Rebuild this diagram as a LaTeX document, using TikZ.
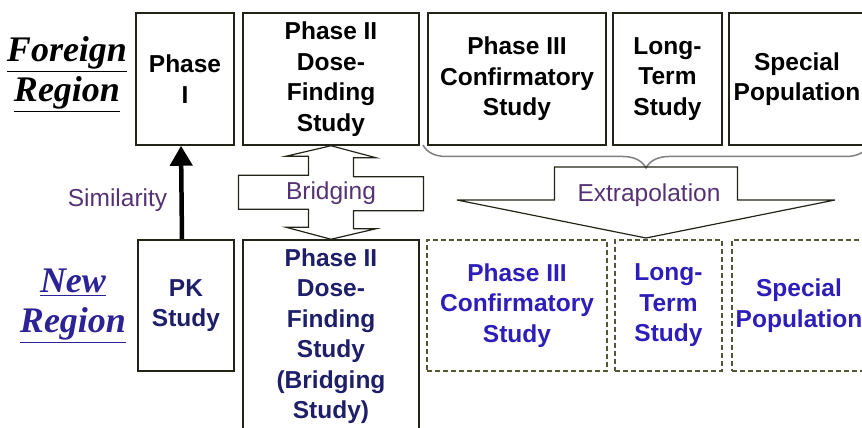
\documentclass[tikz,border=0pt]{standalone}
\usepackage{fontspec}
\setmainfont{Liberation Serif}
\setsansfont{Liberation Sans}
\usetikzlibrary{arrows.meta,decorations.pathreplacing}

\definecolor{boxline}{RGB}{35,35,25}
\definecolor{dashline}{RGB}{85,85,55}
\definecolor{newblue}{RGB}{45,30,185}
\definecolor{navyblue}{RGB}{30,30,105}
\definecolor{regionblue}{RGB}{45,35,150}
\definecolor{tagpurple}{RGB}{85,50,115}

\newcommand{\studyfont}{\fontsize{24.5}{30.5}\selectfont\sffamily\bfseries}
\newcommand{\regionfont}{\fontsize{36}{40}\selectfont\rmfamily\bfseries\itshape}
\newcommand{\tagfont}{\fontsize{24.5}{30}\selectfont\sffamily}

\tikzstyle{study} = [draw=boxline, line width=1.5pt, align=center, inner sep=0pt, minimum height=132pt, font=\studyfont]
\tikzstyle{newstudy} = [study, draw=dashline, dash pattern=on 5pt off 3pt, minimum height=131pt, text=newblue]
\tikzstyle{region} = [align=center, font=\regionfont]
\tikzstyle{tag} = [font=\tagfont, text=tagpurple]
\tikzstyle{block} = [draw=boxline, line width=1.2pt, line join=miter]
\tikzstyle{bracket} = [draw=gray, line width=1.5pt, decorate, decoration={brace, amplitude=23pt}]

\begin{document}
\begin{tikzpicture}[x=1pt, y=1pt]
\useasboundingbox (0,0) rectangle (862,428);
\clip (0,0) rectangle (862,428);

\node[region] (foreign) at (67,354) {\underline{Foreign}\\\underline{Region}};
\node[region, text=regionblue] (newreg) at (73,122) {\underline{New}\\\underline{Region}};

\node[study, minimum width=98pt] (phase1) at (185,349) {Phase\\I};
\node[study, minimum width=176pt] (phase2) at (331,349) {Phase II\\Dose-\\Finding\\Study};
\node[study, minimum width=178pt] (phase3) at (517,349) {Phase III\\Confirmatory\\Study};
\node[study, minimum width=109pt] (longterm) at (667.5,349) {Long-\\Term\\Study};
\node[study, minimum width=136pt] (special) at (797,349) {Special\\Population};

\node[study, minimum width=96pt, minimum height=131pt, text=navyblue] (pk) at (186,122.5) {PK\\Study};
\node[study, minimum width=176pt, minimum height=192pt, text=navyblue] (phase2b) at (331,92) {Phase II\\Dose-\\Finding\\Study\\(Bridging\\Study)};
\node[newstudy, minimum width=180pt] (phase3b) at (517,122.5) {Phase III\\Confirmatory\\Study};
\node[newstudy, minimum width=107pt] (longtermb) at (668.5,122.5) {Long-\\Term\\Study};
\node[newstudy, minimum width=134pt] (specialb) at (799,122.5) {Special\\Population};

\draw[line width=4.5pt, -{Triangle[width=22pt,length=20pt]}] ([xshift=-4pt]pk.north) -- ([xshift=-4pt]phase1.south);
\node[tag] (simil) at (117.5,228) {Similarity};

\draw[block] (phase2.south) -- ++(45,-12) -- ++(-22.5,0) -- ++(0,-19) -- ++(70,0) -- ++(0,-34) -- ++(-70,0) -- ++(0,-18) -- ++(22.5,0) -- (phase2b.north) -- ++(-45,12) -- ++(22.5,0) -- ++(0,18) -- ++(-70,0) -- ++(0,34) -- ++(70,0) -- ++(0,19) -- ++(-22.5,0) -- cycle;
\node[tag] (bridg) at (331,235) {Bridging};

\coordinate (bl) at (423,283);
\coordinate (br) at (869,283);
\draw[bracket] (br) -- (bl);
\coordinate (ex) at (646,261);
\coordinate (extip) at (646,190);
\draw[block] (ex) -- ++(91.5,0) -- ++(0,-33) -- ++(97.5,0) -- (extip) -- ++(-189,38) -- ++(97.5,0) -- ++(0,33) -- cycle;
\node[tag] (extra) at (649,233) {Extrapolation};
\end{tikzpicture}
\end{document}
